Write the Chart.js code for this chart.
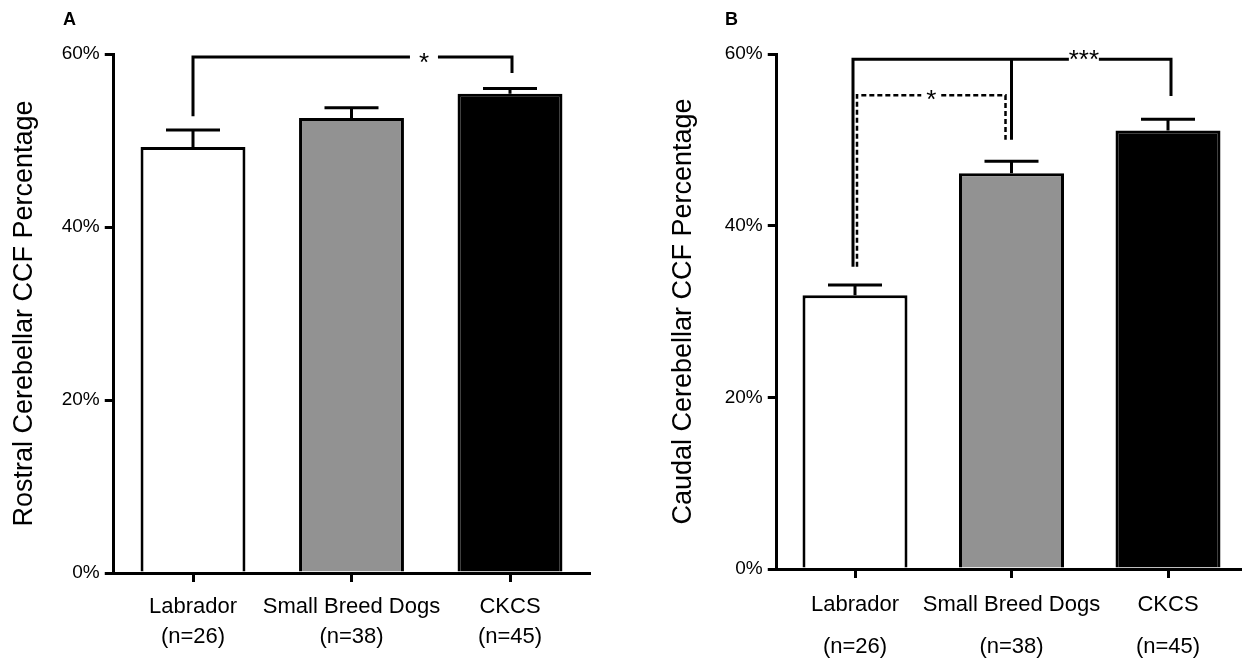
<!DOCTYPE html>
<html>
<head>
<meta charset="utf-8">
<script src="https://cdn.jsdelivr.net/npm/chart.js@4.4.1/dist/chart.umd.min.js"></script>
<style>
  html, body { margin: 0; padding: 0; background: #fff; overflow: hidden; }
  #wrap { position: relative; width: 1242px; height: 659px; overflow: hidden; }
  .panel { position: absolute; top: 0; }
  .letter { position: absolute; font: bold 18px "Liberation Sans", Arial, sans-serif; color: #000; line-height: 1; }
</style>
</head>
<body>
<div id="wrap">
  <canvas id="chartA" class="panel" width="620" height="659" style="left:0"></canvas>
  <canvas id="chartB" class="panel" width="630" height="659" style="left:620px"></canvas>
  <div class="letter" style="left:63px; top:10px">A</div>
  <div class="letter" style="left:725px; top:10px">B</div>
</div>
<script>
// Data
const breeds = ['Labrador', 'Small Breed Dogs', 'CKCS'];
const counts = [26, 38, 45];
const rostralMean = [49.25, 52.6, 55.4];
const rostralSem = [1.95, 1.2, 0.6];
const caudalMean = [31.9, 46.1, 51.1];
const caudalSem = [1.2, 1.4, 1.3];
const yTickValues = [0, 20, 40, 60];
const yTickLabels = ['0%', '20%', '40%', '60%'];
const barColors = ['#ffffff', '#929292', '#000000'];

// significance brackets: legs = [category index, leg end value, px nudge]
const bracketsA = [
  { legs: [[0, 52.8, 0], [2, 57.8, 2]], level: 59.65, label: '*', at: 0.724, gap: 28, dy: 14, dashed: false },
];
const bracketsB = [
  { legs: [[0, 35.2, -2], [1, 50.0, 0], [2, 55.1, 3]], level: 59.4, label: '***', at: 0.726, gap: 30, dy: 9, dashed: false },
  { legs: [[0, 35.2, 2], [1, 50.0, -6]], level: 55.2, label: '*', at: 0.5, gap: 20, dy: 13, dashed: true },
];

const FONT = '"Liberation Sans", Arial, Helvetica, sans-serif';
const tickLabels = breeds.map((b, i) => [b, '(n=' + counts[i] + ')']);

// error bars + brackets, drawn through the chart scales
const annotate = {
  id: 'annotate',
  afterDatasetsDraw(chart, args, opts) {
    const ctx = chart.ctx;
    const xs = chart.scales.x;
    const ys = chart.scales.y;
    const meta = chart.getDatasetMeta(0);
    const vals = chart.data.datasets[0].data;
    ctx.save();
    ctx.strokeStyle = '#000';
    ctx.lineWidth = 3;
    ctx.lineCap = 'butt';
    opts.errors.forEach((e, i) => {
      const bx = meta.data[i].x;
      const top = ys.getPixelForValue(vals[i]);
      const end = ys.getPixelForValue(vals[i] + e);
      ctx.beginPath();
      ctx.moveTo(bx, top);
      ctx.lineTo(bx, end);
      ctx.moveTo(bx - opts.capWidth / 2, end);
      ctx.lineTo(bx + opts.capWidth / 2, end);
      ctx.stroke();
    });

    opts.brackets.forEach((b) => {
      const yl = ys.getPixelForValue(b.level);
      const pts = b.legs.map((l) => [xs.getPixelForValue(l[0]) + l[2], ys.getPixelForValue(l[1])]);
      const xl = pts[0][0];
      const xr = pts[pts.length - 1][0];
      const xm = xl + (xr - xl) * b.at;
      ctx.lineWidth = b.dashed ? 2.5 : 3;
      ctx.setLineDash(b.dashed ? [5, 3] : []);
      ctx.lineJoin = 'miter';
      ctx.beginPath();
      ctx.moveTo(xl, pts[0][1]);
      ctx.lineTo(xl, yl);
      ctx.lineTo(xm - b.gap / 2, yl);
      ctx.moveTo(xm + b.gap / 2, yl);
      ctx.lineTo(xr, yl);
      ctx.lineTo(xr, pts[pts.length - 1][1]);
      for (let k = 1; k < pts.length - 1; k++) {
        ctx.moveTo(pts[k][0], yl);
        ctx.lineTo(pts[k][0], pts[k][1]);
      }
      ctx.stroke();
      ctx.setLineDash([]);
      ctx.fillStyle = '#000';
      ctx.font = '26px ' + FONT;
      ctx.textAlign = 'center';
      ctx.textBaseline = 'alphabetic';
      ctx.fillText(b.label, xm, yl + b.dy);
    });
    ctx.restore();
  },
};

function makeChart(canvas, cfg) {
  return new Chart(canvas, {
    type: 'bar',
    data: {
      labels: tickLabels,
      datasets: [
        {
          data: cfg.values,
          backgroundColor: barColors,
          borderColor: '#000',
          borderWidth: 3,
          barPercentage: cfg.barPct,
          categoryPercentage: 1,
        },
      ],
    },
    options: {
      responsive: false,
      animation: false,
      layout: { padding: { left: cfg.padLeft, right: cfg.padRight, top: 54, bottom: 0 } },
      plugins: {
        legend: { display: false },
        tooltip: { enabled: false },
        annotate: { errors: cfg.errors, brackets: cfg.brackets, capWidth: 54 },
      },
      scales: {
        x: {
          offset: true,
          grid: { offset: false, drawOnChartArea: false, tickLength: 9, color: '#000', lineWidth: 3 },
          border: { display: true, color: '#000', width: 3 },
          ticks: {
            color: '#000',
            font: { size: 22, family: FONT, lineHeight: cfg.lineH },
            padding: cfg.labelPad,
            maxRotation: 0,
            autoSkip: false,
          },
          afterFit: (s) => { s.height = cfg.xHeight; },
        },
        y: {
          min: 0,
          max: 60,
          afterBuildTicks: (s) => { s.ticks = yTickValues.map((v) => ({ value: v })); },
          ticks: {
            color: '#000',
            font: { size: 19, family: FONT },
            padding: 5,
            callback: (v, i) => yTickLabels[i],
          },
          grid: { drawOnChartArea: false, tickLength: 9, color: '#000', lineWidth: 3 },
          border: { display: true, color: '#000', width: 3 },
          title: {
            display: true,
            text: cfg.title,
            color: '#000',
            font: { size: 27, family: FONT },
            padding: { top: cfg.titlePad, bottom: 0 },
          },
          afterFit: (s) => { s.width = cfg.yWidth; },
        },
      },
    },
    plugins: [annotate],
  });
}

makeChart(document.getElementById('chartA'), {
  values: rostralMean,
  errors: rostralSem,
  brackets: bracketsA,
  title: 'Rostral Cerebellar CCF Percentage',
  barPct: 0.662,
  padLeft: 0,
  padRight: 30.75,
  yWidth: 113.75,
  titlePad: 8,
  xHeight: 86,
  labelPad: 10,
  lineH: '30px',
});

makeChart(document.getElementById('chartB'), {
  values: caudalMean,
  errors: caudalSem,
  brackets: bracketsB,
  title: 'Caudal Cerebellar CCF Percentage',
  barPct: 0.671,
  padLeft: 40,
  padRight: 3.75,
  yWidth: 116.75,
  titlePad: 7,
  xHeight: 90,
  labelPad: 6,
  lineH: '42px',
});
</script>
</body>
</html>
